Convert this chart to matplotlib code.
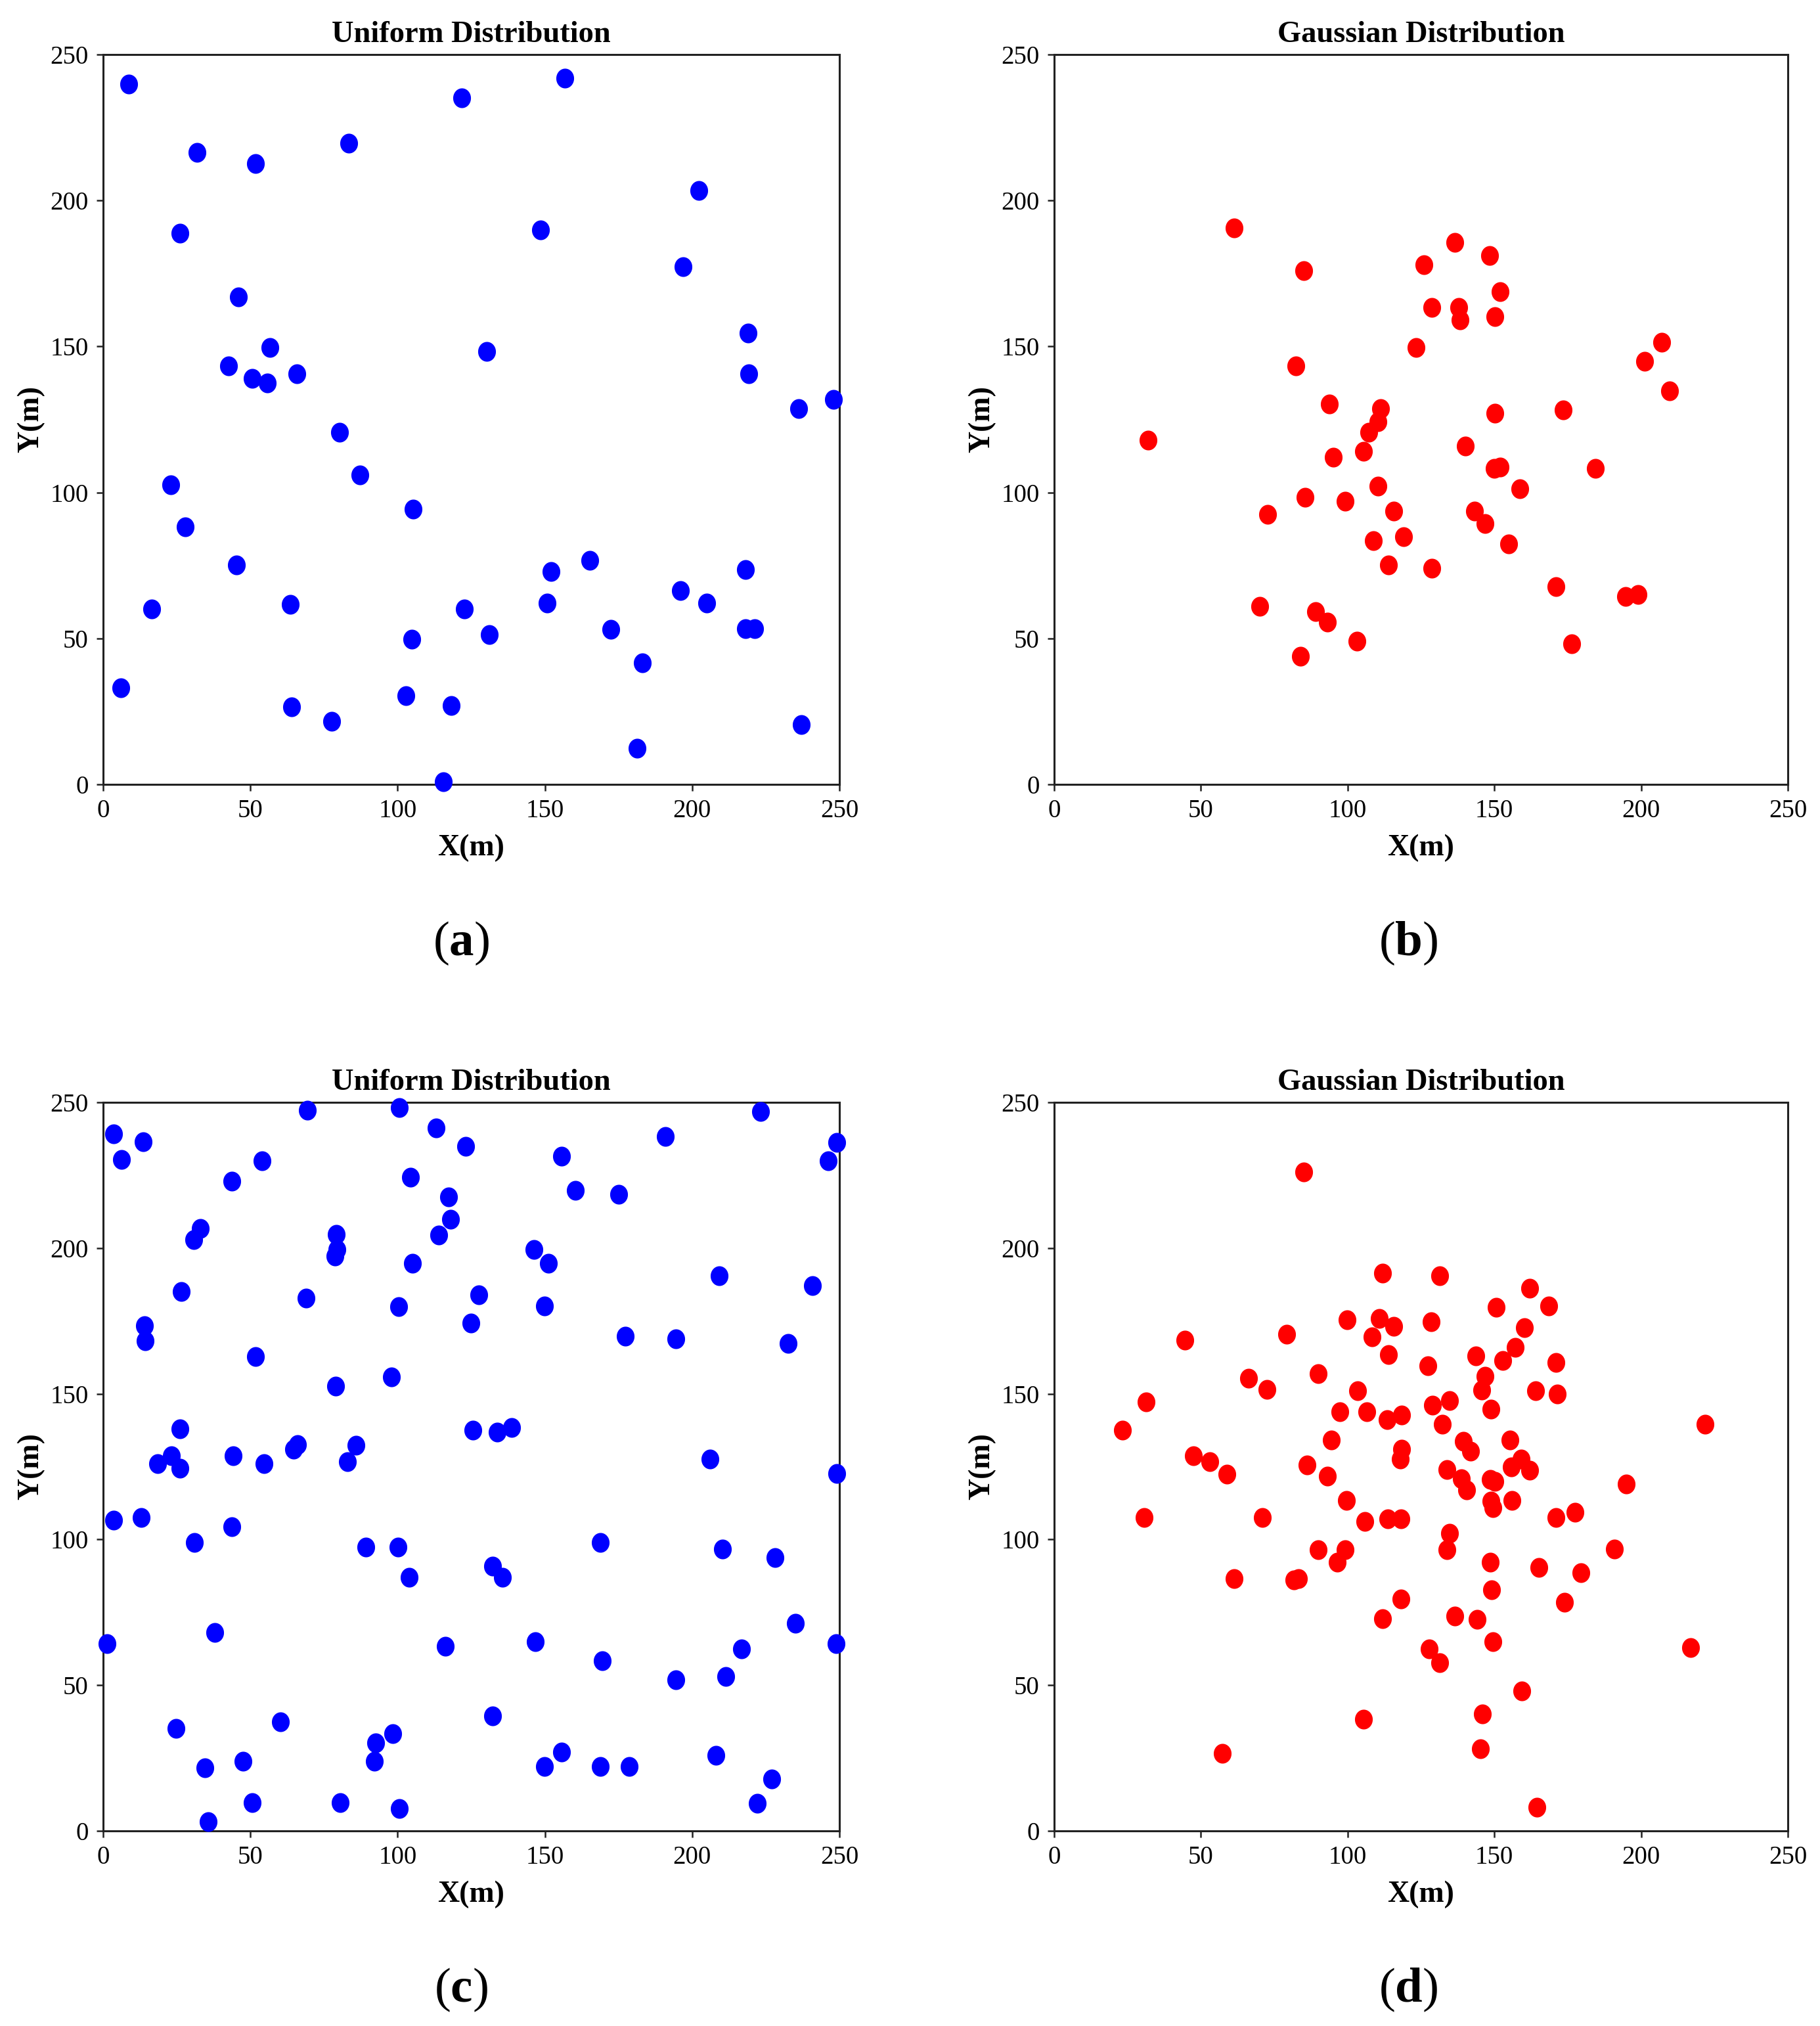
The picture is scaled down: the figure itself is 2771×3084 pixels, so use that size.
import matplotlib
matplotlib.use("Agg")
import matplotlib.pyplot as plt
from matplotlib.path import Path
from matplotlib.markers import MarkerStyle
import numpy as np

plt.rcParams['font.family'] = ['Liberation Serif', 'DejaVu Serif']
plt.rcParams['mathtext.fontset'] = 'custom'
plt.rcParams['mathtext.rm'] = 'Liberation Serif'
plt.rcParams['mathtext.bf'] = 'Liberation Serif:bold'

# ---- data ----
a_x = [8.8, 156.7, 121.7, 83.5, 31.8, 51.7, 202.2, 26.0, 148.6, 197.0, 45.9, 219.0, 56.6, 130.2,
       42.7, 50.6, 55.7, 65.8, 219.3, 247.9, 236.1, 80.3, 87.3, 23.0, 105.3, 27.8, 45.3, 165.2,
       152.2, 218.2, 196.0, 16.4, 63.6, 122.6, 150.7, 204.9, 131.1, 172.5, 218.2, 221.2, 104.8,
       183.2, 6.0, 102.7, 64.1, 118.3, 77.5, 237.0, 181.3, 115.5]
a_y = [239.8, 241.8, 235.2, 219.7, 216.5, 212.7, 203.4, 188.8, 189.9, 177.4, 167.0, 154.7, 149.7,
       148.2, 143.3, 139.1, 137.4, 140.6, 140.6, 131.9, 128.7, 120.7, 106.0, 102.7, 94.2, 88.1,
       75.2, 76.8, 73.0, 73.5, 66.3, 60.1, 61.6, 60.1, 62.2, 62.2, 51.4, 53.1, 53.4, 53.4, 49.7,
       41.7, 33.0, 30.3, 26.5, 27.1, 21.6, 20.5, 12.3, 0.8]

b_x = [61.4, 136.6, 148.5, 126.1, 85.0, 151.9, 128.6, 137.8, 138.4, 150.1, 123.3, 207.0, 82.3,
       201.1, 209.7, 93.8, 111.2, 150.1, 173.4, 110.3, 107.1, 31.9, 140.0, 95.2, 105.5, 149.9,
       151.9, 184.5, 158.7, 110.3, 85.6, 99.1, 72.7, 115.7, 143.3, 146.8, 119.0, 108.7, 154.8,
       114.0, 128.6, 171.0, 194.7, 199.0, 70.0, 89.1, 93.0, 103.2, 176.3, 83.9]
b_y = [190.5, 185.6, 181.2, 178.0, 175.9, 168.7, 163.4, 163.4, 159.0, 160.2, 149.7, 151.4, 143.3,
       145.0, 134.8, 130.4, 128.7, 127.2, 128.3, 124.3, 120.7, 117.9, 115.8, 112.0, 114.1, 108.2,
       108.6, 108.2, 101.2, 102.2, 98.4, 96.9, 92.5, 93.6, 93.6, 89.3, 84.9, 83.4, 82.3, 75.2,
       74.1, 67.7, 64.4, 65.0, 61.0, 59.1, 55.5, 49.1, 48.1, 43.8]

c_x = [3.6, 6.2, 13.5, 69.4, 100.6, 113.1, 123.2, 155.6, 223.3, 190.9, 249.1, 246.3, 54.0, 43.6,
       104.4, 117.4, 160.3, 175.0, 117.9, 32.9, 30.7, 79.2, 79.5, 78.8, 114.0, 146.3, 151.2, 105.0,
       209.2, 240.9, 26.5, 127.5, 69.0, 100.4, 149.9, 124.9, 14.1, 14.3, 177.4, 194.5, 232.5,
       51.7, 98.0, 79.0, 26.0, 125.5, 133.7, 138.8, 66.0, 64.7, 85.8, 23.3, 18.6, 26.0, 44.2,
       54.6, 83.0, 206.0, 249.1, 3.6, 13.0, 43.8, 30.9, 89.2, 100.1, 168.9, 210.3, 228.2, 132.2,
       104.0, 135.6, 38.0, 235.1, 1.3, 116.3, 146.7, 248.9, 216.7, 169.5, 194.5, 211.4, 132.2,
       60.2, 24.8, 98.4, 92.6, 92.0, 47.4, 34.6, 155.6, 149.8, 168.9, 178.6, 208.1, 227.1, 50.6,
       80.5, 100.6, 222.2, 35.6]
c_y = [239.1, 230.5, 236.5, 247.3, 248.3, 241.2, 234.9, 231.5, 246.8, 238.2, 236.3, 230.0, 230.0,
       222.9, 224.4, 217.6, 219.7, 218.5, 209.9, 206.7, 202.9, 204.6, 199.6, 197.3, 204.4, 199.6,
       194.7, 194.7, 190.5, 187.2, 185.1, 184.0, 182.8, 179.8, 180.2, 174.2, 173.3, 168.1, 169.8,
       168.9, 167.2, 162.8, 155.7, 152.7, 138.0, 137.6, 136.8, 138.4, 132.6, 130.9, 132.4, 128.8,
       126.1, 124.4, 128.8, 126.1, 126.7, 127.7, 122.7, 106.7, 107.6, 104.4, 99.0, 97.3, 97.3,
       99.0, 96.8, 93.7, 90.8, 87.0, 87.0, 68.1, 71.2, 64.3, 63.4, 64.9, 64.3, 62.4, 58.4, 51.9,
       52.9, 39.5, 37.4, 35.1, 33.4, 30.2, 23.9, 23.9, 21.6, 27.1, 22.1, 22.1, 22.1, 26.0, 17.7,
       9.7, 9.7, 7.6, 9.4, 3.2]

d_x = [85.0, 112.0, 131.4, 162.0, 150.7, 168.5, 99.9, 110.8, 128.4, 115.7, 160.3, 108.3, 79.2,
       44.6, 157.2, 114.0, 143.7, 152.9, 127.4, 171.0, 89.9, 66.3, 146.8, 72.5, 103.4, 145.8,
       164.0, 171.4, 31.3, 134.7, 129.0, 148.9, 97.3, 106.5, 118.3, 113.4, 132.3, 221.7, 23.3,
       94.4, 139.4, 155.4, 141.9, 118.3, 47.5, 117.9, 159.1, 53.0, 86.2, 155.8, 162.0, 133.9,
       58.8, 93.0, 138.8, 148.7, 150.1, 194.9, 140.5, 99.7, 148.9, 156.0, 149.5, 177.5, 30.7,
       70.9, 171.0, 105.9, 113.6, 118.1, 134.7, 133.9, 89.9, 99.1, 191.0, 96.4, 148.6, 165.2,
       179.6, 61.4, 81.7, 83.3, 149.1, 118.1, 174.0, 112.0, 136.6, 144.1, 149.5, 216.8, 127.8,
       131.4, 159.3, 146.0, 105.4, 57.3, 145.2, 164.6]
d_y = [226.0, 191.4, 190.5, 186.1, 179.6, 180.2, 175.4, 175.8, 174.8, 173.1, 172.7, 169.5, 170.4,
       168.3, 166.0, 163.4, 163.0, 161.3, 159.5, 160.7, 156.9, 155.3, 155.9, 151.5, 151.0, 151.3,
       151.0, 149.8, 147.3, 147.7, 146.0, 144.8, 143.9, 143.9, 142.7, 141.2, 139.5, 139.5, 137.4,
       134.2, 133.6, 134.2, 130.3, 130.9, 128.8, 127.5, 127.5, 126.7, 125.6, 124.8, 123.7, 123.9,
       122.3, 121.8, 120.8, 120.6, 120.0, 119.1, 117.0, 113.5, 113.2, 113.5, 110.9, 109.4, 107.6,
       107.6, 107.6, 106.1, 107.1, 107.1, 102.1, 96.4, 96.4, 96.4, 96.8, 92.2, 92.2, 90.3, 88.7,
       86.5, 86.1, 86.5, 82.8, 79.6, 78.4, 72.9, 73.7, 72.5, 64.9, 62.8, 62.4, 57.8, 48.1, 40.1,
       38.4, 26.5, 28.1, 8.2]

titles = ["Uniform Distribution", "Gaussian Distribution", "Uniform Distribution", "Gaussian Distribution"]
panel_labels = ["a", "b", "c", "d"]
ticks = [0, 50, 100, 150, 200, 250]

# ---- figure ----
W, H = 2771, 3084
fig = plt.figure(figsize=(W / 100, H / 100), dpi=100)

# slightly tall elliptical marker (reference is slightly squeezed horizontally)
t = np.linspace(0, 2 * np.pi, 60)
ell = Path(np.column_stack([0.9 * np.cos(t), np.sin(t)]), closed=True)
marker = MarkerStyle(ell)

boxes = [(157, 83, 1278, 1194), (1605, 83, 2722, 1194),
         (157, 1678, 1278, 2787), (1605, 1678, 2722, 2787)]
datasets = [(a_x, a_y, '#0000ff'), (b_x, b_y, '#ff0000'),
            (c_x, c_y, '#0000ff'), (d_x, d_y, '#ff0000')]
label_pos = [(702, 1436), (2144, 1436), (702, 3029), (2144, 3029)]

for i in range(4):
    l, tp, r, b = boxes[i]
    ax = fig.add_axes([l / W, 1 - b / H, (r - l) / W, (b - tp) / H])
    xs, ys, col = datasets[i]
    ax.scatter(xs, ys, s=470, marker=marker, color=col, linewidths=0, clip_on=False, zorder=3)
    ax.set_xlim(0, 250)
    ax.set_ylim(0, 250)
    ax.set_xticks(ticks)
    ax.set_yticks(ticks)
    ax.tick_params(direction='out', length=7, width=1.8, labelsize=28, pad=9, color='#222222')
    for sp in ax.spines.values():
        sp.set_linewidth(2.2)
        sp.set_color('#222222')
    ax.set_title(titles[i], fontsize=33.5, fontweight='bold', pad=14)
    ax.set_xlabel("X(m)", fontsize=33, fontweight='bold', labelpad=12)
    ax.set_ylabel("Y(m)", fontsize=33, fontweight='bold', labelpad=6)
    px, py = label_pos[i]
    fig.text(px / W, 1 - py / H, r"($\mathbf{%s}$)" % panel_labels[i], fontsize=54,
             ha='center', va='center')

fig.savefig("out.png", dpi=100, facecolor='white')
